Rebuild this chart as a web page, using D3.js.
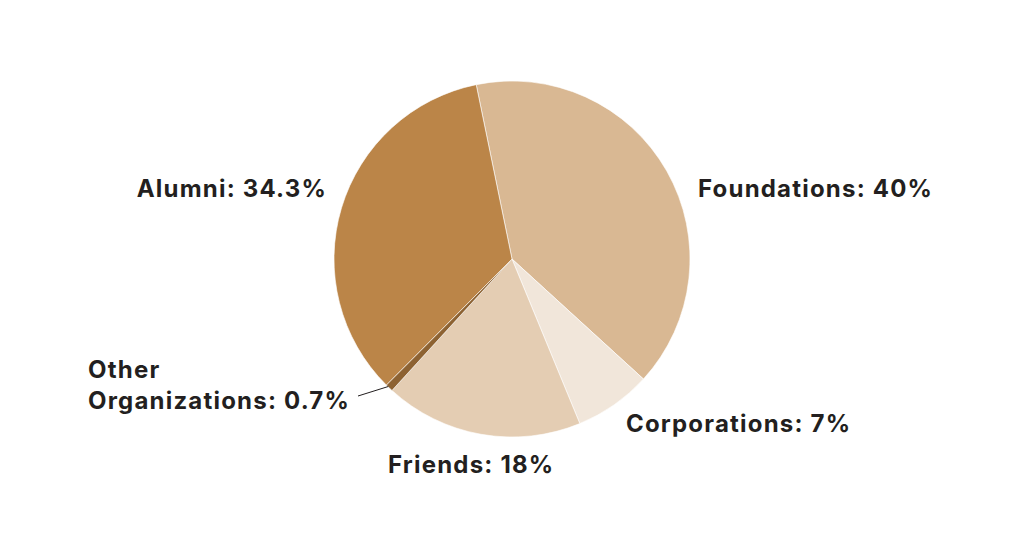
<!DOCTYPE html>
<html>
<head>
<meta charset="utf-8">
<script src="https://cdn.jsdelivr.net/npm/d3@7"></script>
<style>
  body { margin: 0; background: #ffffff; }
  text { font-family: Inter, "Noto Sans", sans-serif; font-weight: 700; fill: #231f20; letter-spacing: 1.2px; }
</style>
</head>
<body>
<div id="chart"></div>
<script>
var categories = ["Foundations", "Corporations", "Friends", "Other Organizations", "Alumni"];
var shares = [40, 7, 18, 0.7, 34.3];
var labelTexts = [["Foundations: 40%"], ["Corporations: 7%"], ["Friends: 18%"], ["Other", "Organizations: 0.7%"], ["Alumni: 34.3%"]];
var colors = ["#d9b893", "#f1e6da", "#e4cdb3", "#8d6232", "#bb8548"];

var width = 1024, height = 538;
var cx = 512, cy = 259, radius = 178;
var fontSize = 24;

// where each label sits (x, baseline of last line, anchor)
var labelLayout = {
    "Foundations": { x: 698, y: 197, anchor: "start" },
    "Corporations": { x: 626, y: 432, anchor: "start" },
    "Friends": { x: 388, y: 473, anchor: "start" },
    "Other Organizations": { x: 88, y: 409, anchor: "start" },
    "Alumni": { x: 327, y: 197, anchor: "end" }
};

var data = categories.map(function(c, i) {
    return { name: c, value: shares[i], color: colors[i], lines: labelTexts[i] };
});

var svg = d3.select("#chart")
    .append("svg")
        .attr("width", width)
        .attr("height", height);

var g = svg.append("g")
    .attr("transform", "translate(" + cx + "," + cy + ")");

var start = -11.6 * Math.PI / 180;
var pie = d3.pie()
    .sort(null)
    .value(function(d) { return d.value; })
    .startAngle(start)
    .endAngle(start + 2 * Math.PI);

var arc = d3.arc().innerRadius(0).outerRadius(radius);
var arcs = pie(data);

g.selectAll("path.slice")
    .data(arcs)
    .enter()
    .append("path")
        .attr("class", "slice")
        .attr("d", arc)
        .style("fill", function(d) { return d.data.color; })
        .style("stroke", "#ffffff")
        .style("stroke-width", 0.6);

// leader line for the tiny slice
var other = arcs[3];
var edge = d3.arc().innerRadius(radius * 0.99).outerRadius(radius * 0.99).centroid(other);
svg.append("line")
    .attr("x1", cx + edge[0] - 2)
    .attr("y1", cy + edge[1])
    .attr("x2", labelLayout["Other Organizations"].x + 270)
    .attr("y2", labelLayout["Other Organizations"].y - 13)
    .style("stroke", "#231f20")
    .style("stroke-width", 1);

// labels
arcs.forEach(function(d) {
    var pos = labelLayout[d.data.name];
    var lines = d.data.lines;
    var t = svg.append("text")
        .attr("x", pos.x)
        .attr("y", pos.y - (lines.length - 1) * 31)
        .attr("text-anchor", pos.anchor)
        .style("font-size", fontSize + "px");
    lines.forEach(function(line, i) {
        t.append("tspan")
            .attr("x", pos.x)
            .attr("dy", i === 0 ? 0 : 31)
            .text(line);
    });
});
</script>
</body>
</html>
